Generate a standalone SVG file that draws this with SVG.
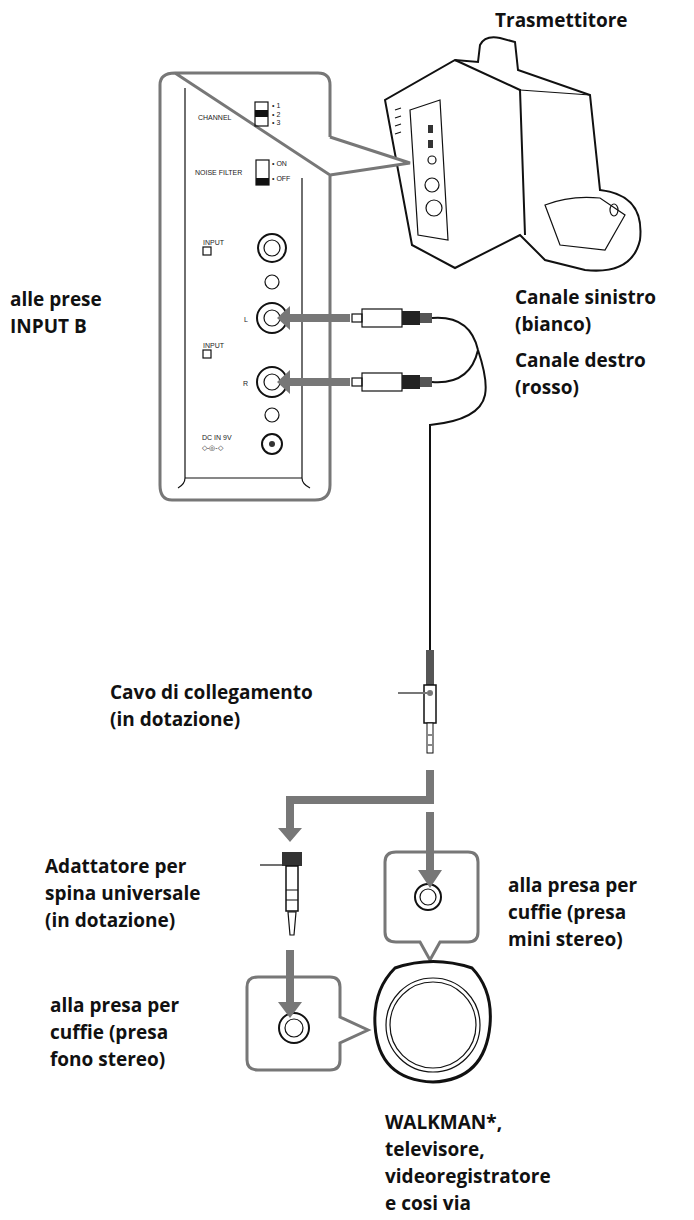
<svg xmlns="http://www.w3.org/2000/svg" width="694" height="1220" viewBox="0 0 694 1220">
<style>
.t{font-family:"Open Sans","Liberation Sans",sans-serif;font-weight:700;font-size:19px;fill:#111}
.s{font-family:"Liberation Sans",sans-serif;font-size:7px;fill:#222}
.ln{fill:none;stroke:#111;stroke-width:2}
.th{fill:none;stroke:#111;stroke-width:1.2}
.ar{fill:#777}
</style>
<rect width="694" height="1220" fill="#fff"/>
<g id="transmitter">
<path d="M478 62 L480 45 Q485 35 500 38 L515 42 L518 70 L590 95 L600 190 Q645 195 640 240 Q632 275 585 270 L545 260 L520 235 L455 268 L412 245 L385 100 L455 60 Z" fill="#fff" stroke="#111" stroke-width="2"/>
<path d="M455 60 L520 90 L525 235" class="ln"/>
<path d="M520 90 L590 95" class="th"/>
<path d="M410 110 L440 100 L448 240 L418 235 Z" class="th"/>
<circle cx="432" cy="160" r="4" class="th"/><circle cx="432" cy="185" r="7" class="th"/><circle cx="434" cy="208" r="8" class="th"/>
<rect x="428" y="125" width="5" height="8" fill="#333"/><rect x="428" y="140" width="5" height="8" fill="#333"/>
<path d="M395 110 l6 -2 M395 118 l6 -2 M395 126 l6 -2 M395 134 l6 -2" class="th"/>
<path d="M545 205 Q570 195 600 198 L625 215 L605 250 L560 245 Z" class="th"/>
<ellipse cx="614" cy="210" rx="4" ry="6" class="th"/>
</g>
<g id="panel">
<path d="M175 73 L318 73 Q330 73 330 85 L330 137 M330 175 L330 485 Q330 500 315 500 L172 500 Q160 500 160 485 L160 85 Q160 73 175 73 Z" fill="#fff" stroke="#777" stroke-width="3"/>
<path d="M330 137 L410 163 L330 175" fill="#fff" stroke="#777" stroke-width="3"/>
<path d="M185 88 L185 478 Q185 484 178 488 M302 178 L302 478 Q302 484 310 488 M185 478 L302 478" class="th"/>
<text x="198" y="120" class="s">CHANNEL</text>
<rect x="255" y="102" width="13" height="24" class="th"/><rect x="255" y="110" width="13" height="7" fill="#111"/>
<text x="272" y="108" class="s">• 1</text><text x="272" y="117" class="s">• 2</text><text x="272" y="125" class="s">• 3</text>
<text x="195" y="175" class="s">NOISE FILTER</text>
<rect x="256" y="160" width="13" height="25" class="th"/><rect x="256" y="178" width="13" height="7" fill="#111"/>
<text x="272" y="166" class="s">• ON</text><text x="272" y="181" class="s">• OFF</text>
<text x="203" y="245" class="s">INPUT</text><rect x="203" y="247" width="8" height="8" class="th"/>
<circle cx="272" cy="248" r="14" class="ln" stroke-width="2.5"/><circle cx="272" cy="248" r="8" class="th"/>
<circle cx="272" cy="282" r="7" class="th"/>
<circle cx="272" cy="318" r="15" class="ln" stroke-width="3"/><circle cx="272" cy="318" r="8" class="th"/>
<text x="244" y="322" class="s" font-size="8">L</text>
<text x="203" y="348" class="s">INPUT</text><rect x="203" y="350" width="8" height="8" class="th"/>
<circle cx="272" cy="382" r="15" class="ln" stroke-width="3"/><circle cx="272" cy="382" r="8" class="th"/>
<text x="243" y="386" class="s" font-size="8">R</text>
<circle cx="272" cy="415" r="7" class="th"/>
<text x="202" y="440" class="s">DC IN 9V</text><text x="202" y="450" class="s">◇-◎-◇</text>
<circle cx="272" cy="444" r="10" class="ln"/><circle cx="272" cy="444" r="3" fill="#333"/>
</g>
<g id="rca-plugs">
<rect x="352" y="314" width="10" height="8" class="th"/><rect x="362" y="309" width="40" height="18" class="th"/><rect x="402" y="311" width="18" height="14" fill="#222"/><rect x="420" y="313" width="12" height="10" fill="#555"/>
<rect x="352" y="378" width="10" height="8" class="th"/><rect x="362" y="373" width="40" height="18" class="th"/><rect x="402" y="375" width="18" height="14" fill="#222"/><rect x="420" y="377" width="12" height="10" fill="#555"/>
</g>
<g id="minijack">
<rect x="426" y="650" width="8" height="35" fill="#555"/>
<rect x="424" y="685" width="12" height="38" fill="#fff" stroke="#111" stroke-width="1.5"/>
<rect x="427" y="723" width="6" height="30" fill="#fff" stroke="#111"/>
<path d="M428 735 h4 M428 745 h4" class="th"/>
</g>
<g id="adapter">
<rect x="282" y="852" width="20" height="14" fill="#333"/>
<rect x="286" y="866" width="12" height="45" fill="#fff" stroke="#111" stroke-width="1.5"/>
<path d="M288 912 L296 912 L294 935 L290 935 Z" class="th"/>
<path d="M286 890 h12 M286 900 h12" class="th"/>
</g>
<g id="jack-mini-box">
<path d="M396 852 L468 852 Q478 852 478 862 L478 932 Q478 942 468 942 L440 942 L430 960 L420 942 L396 942 Q385 942 385 932 L385 862 Q385 852 396 852 Z" fill="#fff" stroke="#777" stroke-width="3"/>
<circle cx="428" cy="897" r="13" class="ln" stroke-width="2.5"/><circle cx="428" cy="897" r="8" class="th"/>
</g>
<g id="jack-phone-box">
<path d="M258 977 L330 977 Q340 977 340 987 L340 1017 L368 1030 L340 1043 L340 1060 Q340 1070 330 1070 L258 1070 Q247 1070 247 1060 L247 987 Q247 977 258 977 Z" fill="#fff" stroke="#777" stroke-width="3"/>
<circle cx="294" cy="1028" r="15" class="ln" stroke-width="2.5"/><circle cx="294" cy="1028" r="9" class="th"/>
</g>
<g id="walkman">
<path d="M395 968 Q433 955 472 968 Q493 990 490 1025 Q485 1080 433 1082 Q378 1080 375 1025 Q373 990 395 968 Z" fill="#fff" stroke="#111" stroke-width="3"/>
<circle cx="433" cy="1025" r="47" class="th"/><circle cx="433" cy="1025" r="43" class="th"/>
</g>
<g id="connectors">
<path d="M432 318 Q470 315 478 350 M432 382 Q470 385 478 350 M478 350 Q488 380 485 395 Q480 420 430 425 L430 650" class="ln" stroke-width="1.8"/>
<path d="M350 314 H290 V306 L277 318 L290 330 V322 H350 Z" class="ar"/>
<path d="M350 378 H290 V370 L277 382 L290 394 V386 H350 Z" class="ar"/>
<circle cx="430" cy="693" r="3" fill="#777"/>
<path d="M398 693 H427" stroke="#777" stroke-width="2"/>
<path d="M426 770 H434 V804 H294 V828 H302 L290 842 L278 828 H286 V796 H426 Z" class="ar"/>
<path d="M426 812 H434 V870 H442 L430 888 L418 870 H426 Z" class="ar"/>
<path d="M286 950 H294 V1002 H302 L290 1018 L278 1002 H286 Z" class="ar"/>
<path d="M260 865 H282" stroke="#111" stroke-width="1.2"/>
</g>
<g id="labels">
<text x="495" y="27" class="t">Trasmettitore</text>
<text x="515" y="304" class="t">Canale sinistro</text><text x="515" y="331" class="t">(bianco)</text>
<text x="515" y="367" class="t">Canale destro</text><text x="515" y="394" class="t">(rosso)</text>
<text x="10" y="306" class="t">alle prese</text><text x="10" y="333" class="t">INPUT B</text>
<text x="110" y="699" class="t">Cavo di collegamento</text><text x="110" y="726" class="t">(in dotazione)</text>
<text x="45" y="873" class="t">Adattatore per</text><text x="45" y="900" class="t">spina universale</text><text x="45" y="927" class="t">(in dotazione)</text>
<text x="508" y="892" class="t">alla presa per</text><text x="508" y="919" class="t">cuffie (presa</text><text x="508" y="946" class="t">mini stereo)</text>
<text x="50" y="1012" class="t">alla presa per</text><text x="50" y="1039" class="t">cuffie (presa</text><text x="50" y="1066" class="t">fono stereo)</text>
<text x="385" y="1129" class="t">WALKMAN*,</text><text x="385" y="1156" class="t">televisore,</text><text x="385" y="1183" class="t">videoregistratore</text><text x="385" y="1210" class="t">e cosi via</text>
</g>
</svg>
